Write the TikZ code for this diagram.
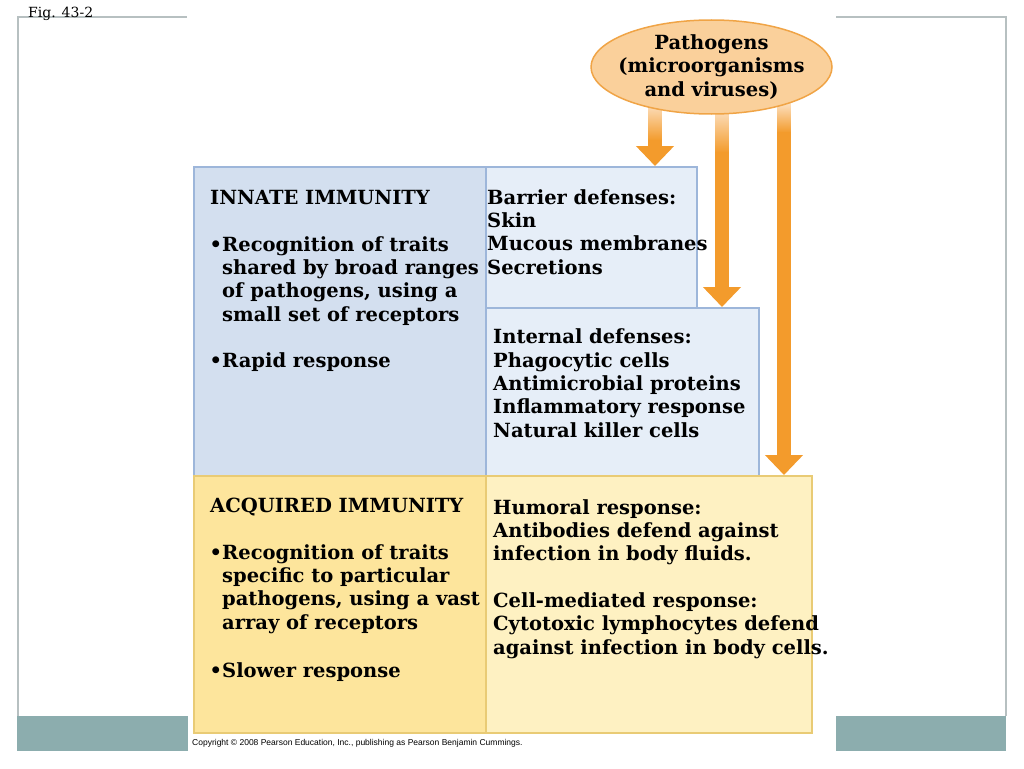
\documentclass[tikz,border=0pt]{standalone}
\usepackage{fontspec}
\setmainfont{DejaVu Serif}
\newfontfamily\copyfont{Liberation Sans}
\usetikzlibrary{arrows.meta,shapes.geometric}

\definecolor{innateblue}{HTML}{D3DFEF}
\definecolor{defenseblue}{HTML}{E6EEF8}
\definecolor{blueedge}{HTML}{9DB6DA}
\definecolor{acquiredyellow}{HTML}{FDE59C}
\definecolor{responseyellow}{HTML}{FEF1C2}
\definecolor{yellowedge}{HTML}{E9CB75}
\definecolor{pathorange}{HTML}{F39B2C}
\definecolor{paleorange}{HTML}{FDE7CF}
\definecolor{ellipsefill}{HTML}{FAD09B}
\definecolor{ellipseedge}{HTML}{F0A446}
\definecolor{framegrey}{HTML}{B7C0C1}
\definecolor{bandteal}{HTML}{8CADAE}

\tikzset{
  immunebox/.style={line width=1.5pt, inner sep=0pt, anchor=north west},
  bodytext/.style={anchor=base west, inner sep=0pt, align=left,
                   font=\fontsize{19.5}{23.3}\selectfont\bfseries},
  pathogenarrow/.style={draw=pathorange, line width=13.5pt,
                        -{Triangle[width=37pt,length=20pt]}}
}

\begin{document}
\begin{tikzpicture}[x=1pt, y=-1pt]
  \newcommand{\halfShaft}{6.75}
  \useasboundingbox (0,0) rectangle (1024,768);

  % Draws the slide frame
  \draw[framegrey, line width=1.2pt] (187,17) -- (18,17) -- (18,716);
  \draw[framegrey, line width=1.2pt] (836,17) -- (1006,17) -- (1006,716);
  \fill[bandteal] (17,716) rectangle (188,751);
  \fill[bandteal] (836,716) rectangle (1006,751);
  \node[anchor=base west, inner sep=0pt, font=\fontsize{14}{16}\selectfont]
       (figLabel) at (28,18) {Fig. 43-2};
  \node[anchor=base west, inner sep=0pt, font=\copyfont\fontsize{8.5}{10}\selectfont]
       (copyright) at (192,745)
       {Copyright © 2008 Pearson Education, Inc., publishing as Pearson Benjamin Cummings.};

  % Draws the innate boxes
  \node[immunebox, draw=blueedge, fill=innateblue, minimum width=292pt,
        minimum height=309pt] (innate) at (193,166) {};
  \node[immunebox, draw=blueedge, fill=defenseblue, minimum width=211pt,
        minimum height=141pt] (barrier) at (485,166) {};
  \node[immunebox, draw=blueedge, fill=defenseblue, minimum width=273pt,
        minimum height=168pt] (internal) at (485,307) {};

  % Draws the acquired boxes
  \node[immunebox, draw=yellowedge, fill=acquiredyellow, minimum width=292pt,
        minimum height=257pt] (acquired) at (193,475) {};
  \node[immunebox, draw=yellowedge, fill=responseyellow, minimum width=326pt,
        minimum height=257pt] (humoral) at (485,475) {};

  % Texts of the boxes (placed at the baseline of their last line)
  \node[bodytext] (innateTitle) at (210,204) {INNATE IMMUNITY};
  \node[bodytext] (innateTraits) at (222,321)
       {\llap{•}Recognition of traits\\shared by broad ranges\\
        of pathogens, using a\\small set of receptors};
  \node[bodytext] (innateSpeed) at (222,367) {\llap{•}Rapid response};
  \node[bodytext] (barrierText) at (487,274)
       {Barrier defenses:\\Skin\\Mucous membranes\\Secretions};
  \node[bodytext] (internalText) at (493,437)
       {Internal defenses:\\Phagocytic cells\\Antimicrobial proteins\\
        Inflammatory response\\Natural killer cells};
  \node[bodytext] (acquiredTitle) at (210,512) {ACQUIRED IMMUNITY};
  \node[bodytext] (acquiredTraits) at (222,629)
       {\llap{•}Recognition of traits\\specific to particular\\
        pathogens, using a vast\\array of receptors};
  \node[bodytext] (acquiredSpeed) at (222,677) {\llap{•}Slower response};
  \node[bodytext] (humoralText) at (493,654)
       {Humoral response:\\Antibodies defend against\\infection in body fluids.\\[23.3pt]
        Cell-mediated response:\\Cytotoxic lymphocytes defend\\
        against infection in body cells.};

  % Draws the arrows coming from the pathogens
  \foreach \x/\ytop/\yfade/\target in {655/100/140/barrier,
                                       722/105/152/internal,
                                       784/100/132/humoral} {
    \shade[top color=paleorange, bottom color=pathorange]
          (\x-\halfShaft,\ytop) rectangle (\x+\halfShaft,\yfade+0.5);
    \coordinate (fade) at (\x,\yfade);
    \draw[pathogenarrow] (fade) -- (fade |- \target.north);
  }

  % Draws the pathogens ellipse
  \node[ellipse, draw=ellipseedge, fill=ellipsefill, line width=1.5pt,
        minimum width=241pt, minimum height=94pt, inner sep=0pt]
       (pathogens) at (711.5,67) {};
  \node[align=center, inner sep=0pt, font=\fontsize{19.5}{23.3}\selectfont\bfseries]
       (pathogensLabel) at (pathogens.center) {Pathogens\\(microorganisms\\and viruses)};
\end{tikzpicture}
\end{document}
